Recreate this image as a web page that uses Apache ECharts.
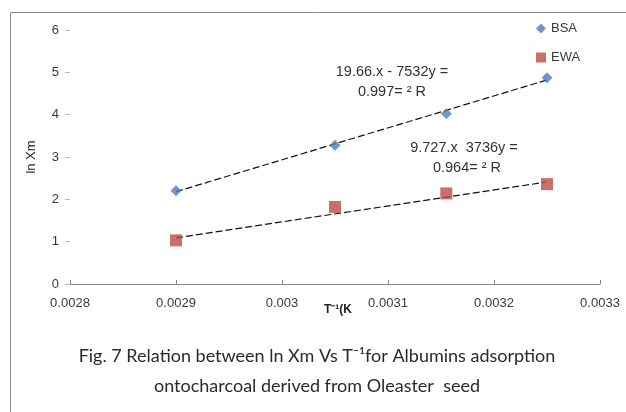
<!DOCTYPE html>
<html>
<head>
<meta charset="utf-8">
<script src="https://cdn.jsdelivr.net/npm/echarts@6/dist/echarts.min.js"></script>
<style>
  html, body { margin: 0; padding: 0; background: #fff; }
  #main { width: 626px; height: 412px; }
</style>
</head>
<body>
<div id="main"></div>
<script>
// values
var invT = [0.0029, 0.00305, 0.003155, 0.00325];
var bsaLnXm = [2.2, 3.28, 4.02, 4.87];
var ewaLnXm = [1.03, 1.82, 2.14, 2.36];

// fitted trend lines, endpoints
var trendX = [0.0029, 0.00325];
var bsaTrend = [2.18, 4.82];
var ewaTrend = [1.09, 2.41];

var xTicks = [0.0028, 0.0029, 0.003, 0.0031, 0.0032, 0.0033];

var bsaEq = ['19.66.x - 7532y =', '0.997= \u00b2 R'];
var ewaEq = ['9.727.x  3736y =', '0.964= \u00b2 R'];
var caption = ['Fig. 7 Relation between ln Xm Vs T\u207b\u00b9for Albumins adsorption',
               'ontocharcoal derived from Oleaster  seed'];

function pairs(xs, ys) {
    var out = [];
    for (var i = 0; i < xs.length; i++) {
        out.push([xs[i], ys[i]]);
    }
    return out;
}

var chartDom = document.getElementById('main');
var myChart = echarts.init(chartDom, null, { renderer: 'canvas' });

var textColor = '#3a3a3a';
var eqFont = '14.5px "Liberation Sans", Arial';
var capFont = '18px Lato, "Open Sans", sans-serif';
var option = {
    animation: false,
    textStyle: { fontFamily: 'Liberation Sans, Arial, sans-serif' },
    grid: { left: 70, right: 26, top: 30, bottom: 128 },
    legend: {
        orient: 'vertical',
        left: 531,
        top: 17,
        itemWidth: 10,
        itemHeight: 10,
        itemGap: 16,
        textStyle: { fontSize: 13, color: textColor },
        data: [
            { name: 'BSA', icon: 'diamond' },
            { name: 'EWA', icon: 'rect' }
        ]
    },
    xAxis: {
        type: 'value',
        min: xTicks[0],
        max: xTicks[xTicks.length - 1],
        interval: 0.0001,
        name: 'T\u207b\u00b9(K',
        nameLocation: 'middle',
        nameGap: 20,
        nameMoveOverlap: false,
        nameTextStyle: { fontSize: 12, fontWeight: 'bold', color: '#222', padding: [0, 0, 0, 6] },
        axisLine: { lineStyle: { color: '#888', width: 1 } },
        axisTick: { inside: true, length: 4, lineStyle: { color: '#888' } },
        splitLine: { show: false },
        axisLabel: {
            margin: 13,
            fontSize: 13,
            color: textColor,
            formatter: function (v) { return String(parseFloat(v.toFixed(4))); }
        }
    },
    yAxis: {
        type: 'value',
        min: 0,
        max: 6,
        interval: 1,
        name: 'ln Xm',
        nameLocation: 'middle',
        nameGap: 32,
        nameTextStyle: { fontSize: 13, color: '#222' },
        axisLine: { show: false },
        axisTick: { show: true, length: 5, lineStyle: { color: '#bbb' } },
        splitLine: { show: false },
        axisLabel: { margin: 11, fontSize: 13, color: textColor }
    },
    series: [
        {
            name: 'BSA',
            type: 'scatter',
            symbol: 'diamond',
            symbolSize: 11,
            itemStyle: { color: '#4a7ebb' },
            data: pairs(invT, bsaLnXm),
            z: 3
        },
        {
            name: 'EWA',
            type: 'scatter',
            symbol: 'rect',
            symbolSize: 12,
            itemStyle: { color: '#be4b48' },
            data: pairs(invT, ewaLnXm),
            z: 3
        },
        {
            name: 'BSA trend',
            type: 'line',
            symbol: 'none',
            silent: true,
            lineStyle: { color: '#111', width: 1.2, type: [7, 3] },
            data: pairs(trendX, bsaTrend),
            z: 2
        },
        {
            name: 'EWA trend',
            type: 'line',
            symbol: 'none',
            silent: true,
            lineStyle: { color: '#111', width: 1.2, type: [7, 3] },
            data: pairs(trendX, ewaTrend),
            z: 2
        }
    ],
    graphic: [
        // figure frame
        {
            type: 'rect',
            shape: { x: 10.5, y: 12.5, width: 700, height: 500 },
            style: { fill: 'none', stroke: '#8a8a8a', lineWidth: 1 },
            silent: true
        },
        {
            type: 'text', x: 392, y: 72,
            style: { text: bsaEq[0], fill: '#333', font: eqFont, align: 'center', verticalAlign: 'middle' }
        },
        {
            type: 'text', x: 392, y: 92,
            style: { text: bsaEq[1], fill: '#333', font: eqFont, align: 'center', verticalAlign: 'middle' }
        },
        {
            type: 'text', x: 464, y: 148,
            style: { text: ewaEq[0], fill: '#333', font: eqFont, align: 'center', verticalAlign: 'middle' }
        },
        {
            type: 'text', x: 467, y: 168,
            style: { text: ewaEq[1], fill: '#333', font: eqFont, align: 'center', verticalAlign: 'middle' }
        },
        {
            type: 'text', x: 317, y: 356,
            style: { text: caption[0], fill: '#2a2a2a', font: capFont, align: 'center', verticalAlign: 'middle' }
        },
        {
            type: 'text', x: 317, y: 386,
            style: { text: caption[1], fill: '#2a2a2a', font: capFont, align: 'center', verticalAlign: 'middle' }
        }
    ]
};

option && myChart.setOption(option);
</script>
</body>
</html>
